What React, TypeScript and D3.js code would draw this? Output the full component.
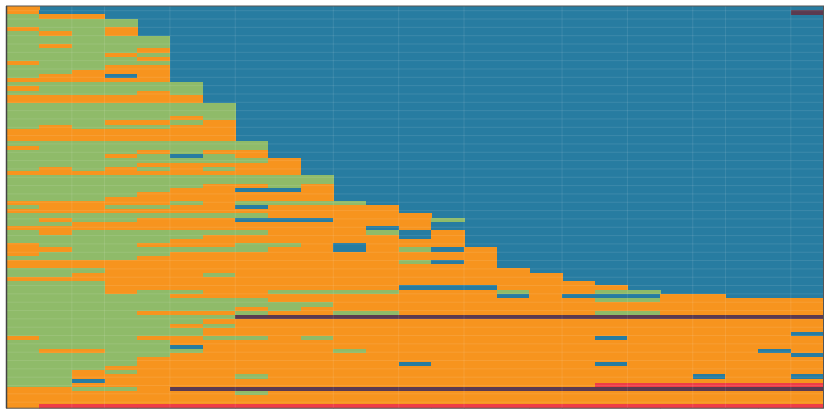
import React from "react";
import * as d3 from "d3";

// state codes -> colours
const stateColors: Record<string, string> = {
  B: "#277ca1",
  O: "#f7941e",
  G: "#8fbb69",
  P: "#5b3a50",
  R: "#ef3d47",
};

// columns where the faint vertical grid lines sit (band index of left edge)
const gridCols = [2, 3, 5, 7, 10, 12, 14, 17, 19, 21, 22, 24];

// one entry per row, run-length coded from the left edge; whatever is not
// listed is the blue background state
const cellRows = [
  "O", "O23BP", "G2O", "4G", "4G", "O2GO", "GOGO", "5G", "5G", "GO3G",
  "4GO", "3GOG", "4GO", "O4G", "3G2O", "2G3O", "G2OBO", "5O", "6G", "O5G",
  "4GOG", "6O", "6O", "7G", "7G", "7G", "5GOG", "3G2OGO", "GO3G2O", "7O",
  "7O", "7O", "8G", "O7G", "4GOG2O", "3GOGBGO", "8GO", "4G5O", "GOGOGOG2O", "9O",
  "10G", "10G", "6G2OGO", "5G2O2BO", "4G6O", "3G7O", "5OGO4G", "G2O2G2OB4O", "12O", "8G5O",
  "GO2G3O3B3OG", "2G11OB", "11OBOB", "GO6G3OGBO", "6G6OBO", "5G9O", "O3G3O2GOB3O", "2O6G2OBOGBO", "O4G10O", "4G11O",
  "12OGBO", "15O", "3G13O", "2G4OG10O", "17O", "3G15O", "3G9O3B4O", "3GO2G2O4G3OG2O2G", "5G10OBO3B2O", "8G10O2G5O",
  "10G15O", "7GOG16O", "4G3OG2O2G6O2G5O", "7G18P", "6G19O", "5GOG18O", "6G19O", "6G18OB", "O3G2O2GOG8OB6O", "5G20O",
  "5GB19O", "G2O3G4OG12OBO", "5G19OB", "4G21O", "4G8OB5OB6O", "3G22O", "2GOG21O", "2G5OG13OB2OB", "2GB22O", "2G16O7R",
  "2O2GO20P", "7OG17O", "25O", "25O", "O24R",
];

const columnCount = 25;

function decode(code: string): string[] {
  const out: string[] = [];
  const re = /(\d*)([A-Z])/g;
  let m;
  while ((m = re.exec(code))) {
    const n = m[1] ? +m[1] : 1;
    for (let i = 0; i < n; i++) out.push(m[2]);
  }
  return out;
}

export default function App() {
  const width = 830;
  const height = 415;
  const left = 6.5, right = 823.5, top = 6, bottom = 408.2;

  const x = d3.scaleBand<number>().domain(d3.range(columnCount)).range([left, right]);
  const y = d3.scaleBand<number>().domain(d3.range(cellRows.length)).range([top, bottom]);
  const yGrid = d3.range(top + 4.67, bottom, 8.33);

  const cells = cellRows.flatMap((code, r) =>
    decode(code).map((s, c) => ({ r, c, s }))
  );

  return (
    <svg width={width} height={height} style={{ position: "absolute", left: 0, top: 0 }}>
      <defs>
        <clipPath id="plot">
          <rect x={left} y={top} width={right - left} height={bottom - top} />
        </clipPath>
      </defs>
      <g clipPath="url(#plot)">
        <rect x={left} y={top} width={right - left} height={bottom - top} fill={stateColors.B} />
        <g shapeRendering="crispEdges">
          {cells.map((d) => (
            <rect
              key={d.r + "-" + d.c}
              x={x(d.c)}
              y={y(d.r)}
              width={x.bandwidth() + 0.5}
              height={y.bandwidth() + 0.3}
              fill={stateColors[d.s]}
            />
          ))}
        </g>
        <g stroke="#ffffff" strokeOpacity={0.1} strokeWidth={1}>
          {gridCols.map((c) => (
            <line key={"v" + c} x1={x(c)} x2={x(c)} y1={top} y2={bottom} />
          ))}
          {yGrid.map((v, i) => (
            <line key={"h" + i} x1={left} x2={right} y1={v} y2={v} />
          ))}
        </g>
      </g>
      <rect x={left} y={top} width={right - left} height={bottom - top} fill="none" stroke="#555" strokeWidth={1} />
      <line x1={left} x2={left} y1={top} y2={bottom} stroke="#444" strokeWidth={1.5} />
    </svg>
  );
}
